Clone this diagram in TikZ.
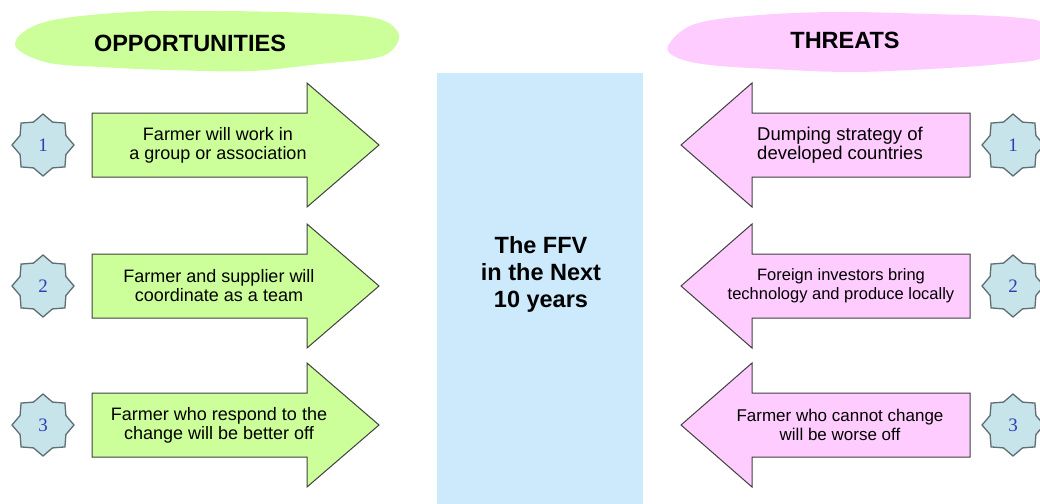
\documentclass[tikz,border=0pt]{standalone}
\usepackage{fontspec}
\setmainfont{Liberation Serif}
\setsansfont{Liberation Sans}
\usepackage{tikz}
\usetikzlibrary{positioning,shapes.geometric}
\definecolor{oppgreen}{HTML}{CCFF99}
\definecolor{thrpink}{HTML}{FFCCFF}
\definecolor{coreblue}{HTML}{CCEAFB}
\definecolor{starblue}{HTML}{C6E4EA}
\definecolor{stargray}{HTML}{5E6E72}
\definecolor{numblue}{HTML}{2B3FB5}

\begin{document}
\begin{tikzpicture}[
    x=1pt, y=-1pt,
    badge/.style={star, star points=8, star point ratio=1.25,
                  minimum size=62pt, inner sep=0pt, fill=starblue,
                  draw=stargray, line width=1.3pt,
                  font=\rmfamily\fontsize{19}{19}\selectfont, text=numblue},
    oarrow/.style={fill=oppgreen, draw=black!75, line width=1pt},
    tarrow/.style={fill=thrpink, draw=black!75, line width=1pt},
    arrowtext/.style={align=center, inner sep=0pt,
                      font=\sffamily\fontsize{18}{19}\selectfont},
    heading/.style={font=\sffamily\bfseries\fontsize{23.5}{24}\selectfont},
]
\useasboundingbox (0,0) rectangle (1040,503);

% ── headings ──
\fill[oppgreen] plot[smooth cycle, tension=0.6] coordinates {
    (15,44) (45,22) (130,12) (220,11) (310,13) (375,18) (398,32)
    (394,48) (375,58) (320,64) (250,71) (170,70) (100,67) (45,62)};
\node[heading] (opp) at (190,43) {OPPORTUNITIES};

\fill[thrpink] plot[smooth cycle, tension=0.6] coordinates {
    (668,46) (695,24) (760,15) (840,12) (930,14) (1010,17) (1045,25)
    (1045,56) (1000,64) (930,69) (850,72) (770,69) (710,65) (678,58)};
\node[heading] (thr) at (845,40) {THREATS};

% ── core ──
\node[fill=coreblue, minimum width=206pt, minimum height=432pt,
      inner sep=0pt, anchor=north west] (core) at (437,73) {};
\node[align=center, font=\sffamily\bfseries\fontsize{23.5}{27}\selectfont]
    (corelbl) at (541,274) {The FFV\\in the Next\\10 years};

% ── opportunities ──
\draw[oarrow] (92,113) -- (307,113) -- (307,83) -- (379,145)
    -- (307,207) -- (307,177) -- (92,177) -- cycle;
\draw[oarrow] (92,254) -- (307,254) -- (307,224) -- (379,286)
    -- (307,348) -- (307,318) -- (92,318) -- cycle;
\draw[oarrow] (92,393) -- (307,393) -- (307,363) -- (379,425)
    -- (307,487) -- (307,457) -- (92,457) -- cycle;

\node[badge] (o1) at (43,145) {1};
\node[badge] (o2) at (43,286) {2};
\node[badge] (o3) at (43,425) {3};

\node[arrowtext] (o1txt) at (218,145) {Farmer will work in\\a group or association};
\node[arrowtext] (o2txt) at (219,286) {Farmer and supplier will\\coordinate as a team};
\node[arrowtext] (o3txt) at (219,425) {Farmer who respond to the\\change will be better off};

% ── threats ──
\draw[tarrow] (970,113) -- (752,113) -- (752,83) -- (681,145)
    -- (752,207) -- (752,177) -- (970,177) -- cycle;
\draw[tarrow] (970,254) -- (752,254) -- (752,224) -- (681,286)
    -- (752,348) -- (752,318) -- (970,318) -- cycle;
\draw[tarrow] (970,393) -- (752,393) -- (752,363) -- (681,425)
    -- (752,487) -- (752,457) -- (970,457) -- cycle;

\node[badge] (t1) at (1013,145) {1};
\node[badge] (t2) at (1013,286) {2};
\node[badge] (t3) at (1013,425) {3};

\node[arrowtext, font=\sffamily\fontsize{18.5}{19}\selectfont]
    (t1txt) at (840,145) {Dumping strategy of\\developed countries};
\node[arrowtext, font=\sffamily\fontsize{16.5}{19}\selectfont]
    (t2txt) at (841,286) {Foreign investors bring\\technology and produce locally};
\node[arrowtext, font=\sffamily\fontsize{17}{19}\selectfont]
    (t3txt) at (840,425) {Farmer who cannot change\\will be worse off};

\end{tikzpicture}
\end{document}
